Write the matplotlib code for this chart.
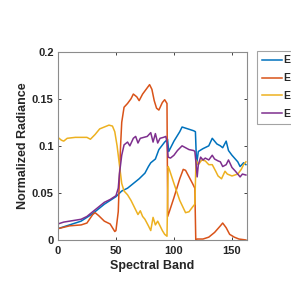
import matplotlib
matplotlib.use("Agg")
import matplotlib.pyplot as plt

plt.rcParams["font.family"] = ["Liberation Sans", "DejaVu Sans"]

# Spectral signatures (band, normalized radiance)
blue_x = [0, 10, 20, 30, 40, 50, 55, 60, 65, 70, 75, 78, 80, 84, 87, 92, 94.5, 95.5, 100, 105,
          107, 112, 117, 118.5, 119.5, 121, 125, 130, 133, 137, 140, 142, 145, 147, 150, 155, 157, 160, 162]
blue_y = [0.012, 0.016, 0.02, 0.028, 0.038, 0.046, 0.052, 0.055, 0.06, 0.065, 0.071, 0.078, 0.082,
          0.086, 0.096, 0.104, 0.107, 0.094, 0.105, 0.115, 0.12, 0.118, 0.116, 0.115, 0.08, 0.094,
          0.097, 0.1, 0.108, 0.102, 0.1, 0.098, 0.105, 0.095, 0.09, 0.083, 0.078, 0.082, 0.08]

orange_x = [0, 10, 20, 25, 30, 32, 35, 40, 45, 47, 49, 50, 52, 54, 55, 57, 60, 63, 65, 68, 70, 73,
            76, 79, 81, 83, 85, 87, 90, 92, 94, 94.6, 96, 100, 105, 108, 110, 113, 116, 118, 118.8,
            120, 125, 130, 135, 140, 142, 145, 148, 152, 156, 162]
orange_y = [0.012, 0.015, 0.016, 0.018, 0.027, 0.029, 0.026, 0.02, 0.017, 0.013, 0.009, 0.01, 0.03,
            0.1, 0.125, 0.141, 0.145, 0.15, 0.155, 0.152, 0.148, 0.155, 0.16, 0.165, 0.16, 0.148,
            0.14, 0.138, 0.146, 0.149, 0.145, 0.025, 0.03, 0.045, 0.065, 0.075, 0.074, 0.067, 0.06,
            0.055, 0.0, 0.001, 0.001, 0.003, 0.008, 0.015, 0.018, 0.013, 0.006, 0.003, 0.001, 0.0]

yellow_x = [0, 3, 5, 8, 15, 20, 25, 28, 32, 36, 40, 44, 47, 49, 51, 53, 55, 57, 60, 63, 65, 67, 69,
            71, 73, 75, 78, 80, 82, 84, 86, 88, 90, 92, 94, 95, 96, 100, 105, 110, 113, 116, 118,
            119, 121, 124, 127, 130, 133, 136, 138, 141, 144, 146, 150, 155, 158, 160, 162]
yellow_y = [0.109, 0.106, 0.105, 0.108, 0.109, 0.109, 0.109, 0.107, 0.112, 0.118, 0.12, 0.122, 0.121,
            0.115, 0.1, 0.08, 0.06, 0.052, 0.048, 0.042, 0.037, 0.032, 0.027, 0.031, 0.025, 0.022,
            0.015, 0.01, 0.024, 0.016, 0.02, 0.015, 0.01, 0.006, 0.004, 0.078, 0.075, 0.06, 0.042,
            0.029, 0.03, 0.035, 0.038, 0.085, 0.08, 0.085, 0.084, 0.08, 0.08, 0.073, 0.068, 0.065,
            0.073, 0.07, 0.068, 0.07, 0.075, 0.08, 0.083]

purple_x = [0, 5, 10, 20, 25, 30, 35, 40, 45, 50, 52, 53, 55, 57, 60, 62, 65, 67, 69, 71, 74, 77, 80,
            82, 84, 86, 88, 91, 93, 94, 95, 97, 100, 103, 107, 110, 113, 117, 118, 119, 120, 121,
            123, 125, 127, 130, 133, 135, 138, 140, 142, 145, 147, 150, 153, 155, 157, 159, 162]
purple_y = [0.017, 0.019, 0.02, 0.022, 0.025, 0.03, 0.035, 0.04, 0.043, 0.047, 0.055, 0.07, 0.09,
            0.101, 0.104, 0.1, 0.108, 0.11, 0.103, 0.108, 0.109, 0.11, 0.114, 0.104, 0.113, 0.103,
            0.108, 0.109, 0.11, 0.104, 0.088, 0.087, 0.09, 0.095, 0.1, 0.098, 0.096, 0.095, 0.094,
            0.082, 0.067, 0.08, 0.088, 0.085, 0.087, 0.085, 0.09, 0.086, 0.084, 0.083, 0.078, 0.08,
            0.085, 0.077, 0.073, 0.07, 0.067, 0.07, 0.069]

labels = ["Endmember 1", "Endmember 2", "Endmember 3", "Endmember 4"]
colors = ["#0072BD", "#D95319", "#EDB120", "#7E2F8E"]

fig = plt.figure(figsize=(2.91, 2.84), dpi=100)
ax = fig.add_axes([0.199, 0.155, 0.65, 0.663])

series = [(blue_x, blue_y), (orange_x, orange_y), (yellow_x, yellow_y), (purple_x, purple_y)]
for (xs, ys), lab, col in zip(series, labels, colors):
    ax.plot(xs, ys, color=col, lw=1.1, label=lab)

ax.set_xlim(0, 163)
ax.set_ylim(0, 0.2)
ax.set_xticks([0, 50, 100, 150])
ax.set_yticks([0, 0.05, 0.1, 0.15, 0.2])
ax.set_yticklabels(["0", "0.05", "0.1", "0.15", "0.2"])
ax.tick_params(direction="in", length=2.5, width=0.6, labelsize=8, colors="#262626",
               top=True, right=True)
ax.tick_params(axis="x", pad=4)
ax.tick_params(axis="y", pad=3)
for lbl in ax.get_xticklabels() + ax.get_yticklabels():
    lbl.set_fontweight("bold")
for sp in ax.spines.values():
    sp.set_color("#8c8c8c")
    sp.set_linewidth(0.8)

ax.set_xlabel("Spectral Band", fontsize=9, fontweight="bold", color="#262626", labelpad=3)
ax.set_ylabel("Normalized Radiance", fontsize=9, fontweight="bold", color="#262626", labelpad=2)

leg = ax.legend(loc="upper left", bbox_to_anchor=(1.055, 1.005), fontsize=7.5, frameon=True,
                fancybox=False, edgecolor="#8c8c8c", handlelength=1.9, handletextpad=0.2,
                borderpad=0.45, labelspacing=0.75, borderaxespad=0)
leg.get_frame().set_linewidth(0.8)
for t in leg.get_texts():
    t.set_fontweight("bold")
    t.set_color("#262626")

fig.savefig("out.png", dpi=100)
